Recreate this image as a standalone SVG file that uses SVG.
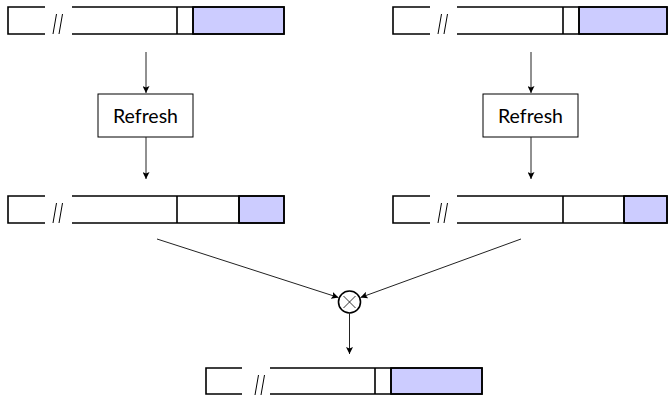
<svg xmlns="http://www.w3.org/2000/svg" width="669" height="395" viewBox="0 0 669 395">
  <style>
    .reg { fill: none; stroke: #000; stroke-width: 1.6; }
    .tail { fill: #ccccff; stroke: #000; stroke-width: 1.6; }
    .cut { fill: none; stroke: #000; stroke-width: 1; }
    .box { fill: #fff; stroke: #000; stroke-width: 1; }
    .lbl { font-family: "Lato", "Liberation Sans", sans-serif; font-size: 19.5px; fill: #000; text-anchor: middle; }
    .edge { fill: none; stroke: #222; stroke-width: 1; marker-end: url(#arrow); }
  </style>
  <defs>
    <marker id="arrow" viewBox="0 0 10 10" refX="10" refY="5" markerWidth="7" markerHeight="7" markerUnits="userSpaceOnUse" orient="auto">
      <path d="M0,0 L10,5 L0,10 L2,5 Z" fill="#000"/>
    </marker>
  </defs>

  <!-- top-left register -->
  <g id="reg-top-left">
    <rect class="tail" x="193" y="7" width="91" height="27"/>
    <path class="reg" d="M45,7 H8 V34 H45 M72,7 H284 V34 H72 M177,7 V34 M193,7 V34"/>
    <path class="cut" d="M56.5,14 L53,34 M62.5,14 L59,34"/>
  </g>

  <!-- top-right register -->
  <g id="reg-top-right">
    <rect class="tail" x="579" y="7" width="88" height="27"/>
    <path class="reg" d="M430,7 H393 V34 H430 M457,7 H667 V34 H457 M563,7 V34 M579,7 V34"/>
    <path class="cut" d="M441.5,14 L438,34 M447.5,14 L444,34"/>
  </g>

  <!-- refresh boxes -->
  <g id="refresh-left">
    <rect class="box" x="98" y="94" width="95" height="43"/>
    <text class="lbl" x="145.5" y="122.5">Refresh</text>
  </g>
  <g id="refresh-right">
    <rect class="box" x="483" y="94" width="95" height="43"/>
    <text class="lbl" x="530.5" y="122.5">Refresh</text>
  </g>

  <!-- middle-left register -->
  <g id="reg-mid-left">
    <rect class="tail" x="239" y="196" width="45" height="27"/>
    <path class="reg" d="M45,196 H8 V223 H45 M72,196 H284 V223 H72 M177,196 V223 M239,196 V223"/>
    <path class="cut" d="M56.5,203 L53,223 M62.5,203 L59,223"/>
  </g>

  <!-- middle-right register -->
  <g id="reg-mid-right">
    <rect class="tail" x="624" y="196" width="43" height="27"/>
    <path class="reg" d="M430,196 H393 V223 H430 M457,196 H667 V223 H457 M563,196 V223 M624,196 V223"/>
    <path class="cut" d="M441.5,203 L438,223 M447.5,203 L444,223"/>
  </g>

  <!-- combining operator -->
  <g id="combine">
    <circle cx="349.5" cy="302" r="11" fill="#fff" stroke="#000" stroke-width="1.6"/>
    <path d="M343.5,296 L355.5,308 M355.5,296 L343.5,308" stroke="#000" stroke-width="0.8" fill="none"/>
  </g>

  <!-- bottom register -->
  <g id="reg-bottom">
    <rect class="tail" x="391" y="368" width="91" height="26"/>
    <path class="reg" d="M242,368 H206 V394 H242 M270,368 H482 V394 H270 M375,368 V394 M391,368 V394"/>
    <path class="cut" d="M258.5,375 L255,395 M264.5,375 L261,395"/>
  </g>

  <!-- connectors -->
  <g id="connectors">
    <line class="edge" x1="146" y1="52" x2="146" y2="93"/>
    <line class="edge" x1="146" y1="137" x2="146" y2="179"/>
    <line class="edge" x1="531" y1="52" x2="531" y2="93"/>
    <line class="edge" x1="531" y1="137" x2="531" y2="179"/>
    <line class="edge" x1="157" y1="239" x2="338.5" y2="297.5"/>
    <line class="edge" x1="521" y1="239" x2="360.5" y2="297.5"/>
    <line class="edge" x1="349.5" y1="313" x2="349.5" y2="354"/>
  </g>
</svg>
